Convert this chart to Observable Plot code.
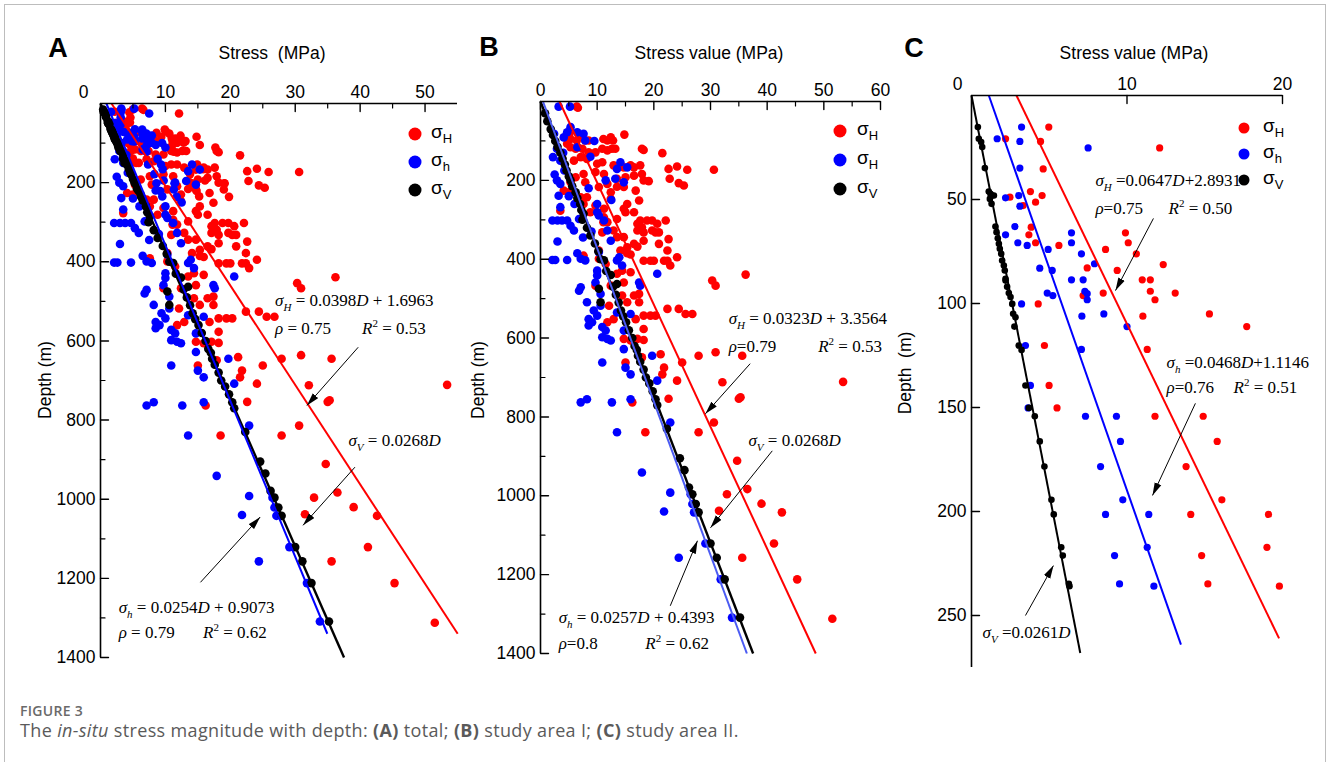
<!DOCTYPE html>
<html><head><meta charset="utf-8">
<script src="https://cdn.jsdelivr.net/npm/d3@7"></script>
<script src="https://cdn.jsdelivr.net/npm/@observablehq/plot@0.6"></script>
<style>
html,body{margin:0;padding:0;background:#fff;width:1328px;height:762px;overflow:hidden;}
#wrap{position:relative;width:1328px;height:762px;font-family:"Liberation Sans",Arial,sans-serif;color:#000;}
#border{position:absolute;left:4px;top:4px;width:1322px;height:840px;border:1px solid #bdbdbd;box-sizing:border-box;}
.abs{position:absolute;white-space:pre;}
.pnl{position:absolute;top:0;}
.letter{font-weight:bold;font-size:27px;transform:translate(-50%,-50%);}
.title{font-size:17.5px;transform:translate(-50%,-50%);}
.ylab{font-size:17.5px;transform:translate(-50%,-50%) rotate(-90deg);}
.legdot{position:absolute;border-radius:50%;transform:translate(-50%,-50%);}
.legtxt{position:absolute;font-size:19px;transform:translateY(-50%);line-height:1;}
.legtxt sub{font-size:13px;vertical-align:-5px;}
.cap1{font-family:"Open Sans",sans-serif;font-size:14px;line-height:1;color:#6a6a6a;font-weight:600;transform:translateY(-50%);letter-spacing:0.3px;}
.cap2{font-family:"Open Sans",sans-serif;font-size:18px;line-height:1;color:#5a5a5a;transform:translateY(-50%);letter-spacing:0.35px;}
</style>
</head><body>
<div id="wrap"><div id="border"></div></div>
<script>
// ---------- data: study area I (σH, σh, σV) as [stress MPa, depth m] ----------
const areaI_sigmaH = [
[6.4,13],[6.6,16],
[5.1,82],[5.3,95],[6.4,99],[7.1,86],[7.9,99],[8.5,99],[4.7,107],[11.1,95],[11.8,99],[12.4,91],[12.8,99],[13.2,120],[14.8,84],
[5.3,116],[6.2,120],[7.4,120],[8.5,129],[9.7,129],[10.9,120],[11.8,124],[12.6,120],[17.9,120],[18.2,123],[21.5,131],
[5.9,150],[7.1,141],[8.2,146],[10.0,158],[10.9,154],[12.9,162],[14.7,167],[15.9,162],[16.5,167],[17.6,162],[22.6,171],[24.1,165],[25.9,173],[30.6,173],
[6.2,192],[7.6,184],[9.7,179],[11.2,184],[13.5,196],[15.0,192],[16.5,188],[17.9,184],[18.2,200],[19.1,202],[22.8,196],[24.4,207],[25.3,213],[11.8,209],[7.9,205],[10.3,217],[5.3,205],[4.1,226],[5.0,230],
[8.2,243],[12.4,230],[13.5,216],[14.7,217],[16.8,226],[15.3,260],[17.4,251],[7.1,243],[7.6,260],[9.7,264],[11.2,272],[3.5,277],[12.4,247],[16.5,281],
[8.8,281],[11.2,294],[11.8,306],[13.5,298],[14.7,272],[15.0,281],[12.9,327],[11.1,306],[17.6,302],[17.1,310],[17.9,319],[18.8,302],[19.7,302],[20.6,310],[22.1,302],[19.7,327],[20.3,332],[20.9,332],[17.1,327],[18.2,332],
[13.5,344],[14.7,344],[10.9,332],[16.5,361],[17.1,368],[15.3,370],[18.2,353],[20.9,361],[22.6,349],[22.4,378],
[10.3,378],[14.1,378],[15.3,385],[15.9,388],[18.2,404],[19.4,404],[20.0,404],[21.8,404],[22.4,404],[24.1,395],[22.9,416],
[7.6,391],[10.3,399],[11.5,412],[13.5,437],[14.4,429],[15.9,433],[14.7,459],[12.4,467],[9.7,467],[16.5,492],[17.4,488],[14.4,492],[15.3,509],[17.4,509],[12.1,518],
[18.2,543],[19.4,543],[20.3,543],[22.4,526],[24.4,526],[25.6,539],[26.8,539],[16.8,552],[11.8,560],[12.9,552],[18.2,577],[14.7,602],[15.9,606],[17.1,602],[18.2,605],
[21.2,641],[17.9,649],[15.0,662],[21.8,675],[21.5,692],[25.0,662],[27.9,645],[30.9,636],[35.6,645],[24.1,708],[22.6,754],[16.2,763],[32.1,712],[35.0,754],[35.3,750],
[30.6,814],[27.9,839],[18.5,839],[34.7,911],[32.9,996],[36.5,983],[30.3,454],[30.9,467],[36.2,439],
[31.5,1038],[39.0,1020],[42.6,1042],[41.2,1121],[35.6,1157],[45.3,1212],[51.5,1312],[53.4,711]
];
const areaI_sigmah = [
[3.2,13],[5.2,13],[2.4,82],[4.1,91],[4.7,78],[7.6,82],[7.9,99],[6.5,116],[2.9,120],[2.2,141],[6.5,78],[5.3,65],
[3.5,150],[4.2,175],[5.0,240],[6.0,260],[8.8,140],[9.5,100],[4.0,130],[2.5,185],[8.5,220],[9.0,330],[7.5,345],[3.0,355],[12.5,250],
[2.9,200],[3.5,209],[3.2,239],[3.5,268],[2.1,302],[3.0,302],[3.8,302],[4.7,302],[5.3,315],[5.9,327],[10.0,281],[10.3,289],[6.8,298],[10.0,260],[11.2,302],[11.8,327],[12.4,353],[13.5,171],[13.2,196],[14.7,205],[15.3,167],[14.1,154],[11.5,200],
[2.1,402],[2.6,402],[4.7,402],[6.5,385],[7.1,399],[7.9,403],[10.3,382],[13.5,403],[13.9,395],[20.6,437],[10.0,429],
[14.4,416],[10.0,441],[9.7,459],[7.1,471],[6.8,480],[8.2,509],[10.6,488],[10.6,518],[10.0,543],[9.4,530],[8.5,552],[9.1,560],[8.5,568],[10.9,572],[11.5,581],[10.9,598],[11.8,602],[12.4,606],[14.7,581],[15.9,539],[17.4,459],[17.6,467],[13.5,535],
[14.7,628],[19.7,645],[10.9,662],[15.0,675],[15.9,692],[20.6,708],[7.1,763],[8.2,755],[12.6,763],[15.9,755],[22.9,814],[13.5,839],[17.9,941],[22.9,992],
[21.8,1040],[24.4,1157],[26.8,1021],[27.1,1042],[29.1,1121],[31.8,1212],[33.8,1309],[26.5,996]
];
const areaI_sigmaV = [
[0.8,30],[1.2,50],[1.8,70],[2.2,85],[2.6,100],[3.0,115],[3.5,130],[3.9,145],[4.3,160],[4.6,175],[5.0,190],[5.3,200],[5.6,215],[6.2,230],[6.5,245],[7.0,260],[7.2,275],[7.6,285],[7.4,300],
[8.2,320],[8.8,340],[9.6,360],[10.2,380],[10.6,400],[11.2,403],[11.6,430],[12.4,440],[13.5,463],[10.3,475],[10.6,509],[12.8,470],[13.3,490],[13.8,510],[14.2,530],[14.6,545],[15.1,560],[15.6,580],
[16.2,600],[16.6,620],[17.0,630],[17.2,645],[17.6,660],[18.2,680],[18.6,700],[19.2,715],[19.8,735],[20.3,755],[20.6,770],[22.3,830],[24.6,905],[25.4,935],
[26.2,979],[26.8,996],[27.4,1021],[27.9,1042],[30.0,1121],[31.1,1157],[32.5,1212],[35.2,1309]
];
// ---------- data: study area II ----------
const areaII_sigmaH = [
[4.97,15.2],[2.19,20.8],[4.44,22.1],[12.1,25.2],[4.61,35.3],[3.79,46.2],[4.54,48.1],[2.47,48.9],[4.12,51.3],[3.32,52.9],[3.84,63.3],[3.69,67.0],[4.12,70.8],[5.62,72.1],[8.62,74.0],[9.90,66.0],[10.08,70.8],[10.6,76.1],[12.33,81.3],[9.37,84.1],[7.44,82.9],[10.98,88.6],[11.5,88.6],
[11.5,94.1],[11.8,98.2],[13.1,95.0],[8.47,95.0],[7.18,96.2],[4.29,100.2],[11.02,106.1],[15.3,105],[17.7,111.1],[11.3,122.1],[4.69,120.2],[4.99,139.4],[5.5,150.2],[11.8,154.2],[14.9,154.2],[15.8,166.3],[13.8,178.4],[16.1,194.4],[14.1,201.4],[19.1,201.4],[19.0,217.2],[14.8,221.2],[15.2,234.8],[19.8,235.9]
];
const areaII_sigmah = [
[3.22,15.2],[1.65,20.8],[3.11,22.1],[7.50,25.2],[3.11,34.9],[2.19,49.2],[3.04,48.1],[3.11,53.2],[2.79,63.0],[2.19,67.0],[2.98,70.8],[3.58,72.1],[4.93,74.0],[6.43,66.0],[6.43,70.8],[7.07,76.1],[7.91,80.9],[4.39,83.0],[5.19,84.1],[6.43,88.6],[7.18,88.6],
[7.29,94.1],[7.44,95.3],[7.44,98.2],[4.87,95.0],[5.23,96.2],[3.22,100.2],[7.10,106.1],[8.51,105.0],[10.0,111.1],[7.07,122.1],[3.47,120.2],[3.79,139.4],[3.64,150.2],[7.33,154.2],[9.32,154.2],[9.58,166.3],[8.30,178.4],[9.73,194.4],[8.62,201.4],[11.4,201.4],[11.3,217.2],[9.2,221.2],[9.52,234.8],[11.73,235.9]
];
const areaII_sigmaV = [
[0.41,15.2],[0.47,20.8],[0.62,22.4],[0.69,24.8],[0.86,34.9],[1.11,46.2],[1.22,47.3],[1.33,48.1],[1.18,49.7],[1.44,48.1],[1.29,52.1],[1.54,63.0],[1.61,65.7],[1.69,68.6],[1.76,71.3],[1.82,73.7],[1.91,76.1],[1.97,79.3],[2.08,81.7],[2.14,84.1],[2.19,88.1],[2.19,89.0],[2.29,92.0],[2.40,95.0],[2.51,96.9],[2.62,100.2],[2.68,104.9],[2.83,106.6],[2.76,111.1],[3.04,120.2],[3.22,122.3],[3.47,139.4],[3.69,150.2],[4.07,154.2],[4.39,166.3],[4.69,178.4],[5.14,194.4],[5.29,201.4],[5.77,217.2],[5.87,221.2],[6.26,234.8],[6.3,235.9]
];
// total = area I + area II
const total_sigmaH = areaI_sigmaH.concat(areaII_sigmaH);
const total_sigmah = areaI_sigmah.concat(areaII_sigmah);
const total_sigmaV = areaI_sigmaV.concat(areaII_sigmaV);

// regression fits: [slope, intercept, max depth]
const fitTotal = {H:[0.0398,1.6963,1340], h:[0.0254,0.9073,1340], V:[0.0268,0,1400]};
const fitAreaI = {H:[0.0323,3.3564,1400], h:[0.0257,0.4393,1400], V:[0.0268,0,1400]};
const fitAreaII = {H:[0.0647,2.8931,261], h:[0.0468,1.1146,264], V:[0.0261,0,268]};

// tick values
const ticksDeep = [200,400,600,800,1000,1200,1400];
const ticksDeepMinor = [100,300,500,700,900,1100,1300];
const ticksShallow = [50,100,150,200,250];
const ticksStressA = [10,20,30,40,50], ticksStressAMinor = [5,15,25,35,45];
const ticksStressB = [0,10,20,30,40,50,60], ticksStressBMinor = [5,15,25,35,45,55];
const ticksStressC = [10,20];

// annotations (text, stress, depth)
const notesA = [
 ["σ_H = 0.0398D + 1.6963",26.9,497],["ρ = 0.75",26.9,568],["R^2 = 0.53",40.3,568],
 ["σ_V = 0.0268D",38.2,851],
 ["σ_h = 0.0254D + 0.9073",2.8,1273],["ρ = 0.79",2.8,1338],["R^2 = 0.62",15.8,1338]];
const arrowsA = [[39.7,616,31.8,763],[39.2,919,31.2,1066],[15.4,1210,24.6,1045]];
const notesB = [
 ["σ_H = 0.0323D + 3.3564",33.2,551],["ρ=0.79",33.2,622],["R^2 = 0.53",49.0,622],
 ["σ_V = 0.0268D",36.7,860],
 ["σ_h = 0.0257D + 0.4393",3.2,1310],["ρ=0.8",3.2,1376],["R^2 = 0.62",18.5,1376]];
const arrowsB = [[37.0,665,29.1,792],[40.9,886,30.0,1081],[22.9,1279,27.7,1114]];
const notesC = [
 ["σ_H =0.0647D+2.8931",7.97,40.9],["ρ=0.75",7.97,54.3],["R^2 = 0.50",12.67,54.3],
 ["σ_h =0.0468D+1.1146",12.54,128.4],["ρ=0.76",12.54,140.4],["R^2 = 0.51",16.85,140.4],
 ["σ_V =0.0261D",0.71,258]];
const arrowsC = [[11.7,59.1,9.26,93.8],[14.4,148,11.64,192.3],[3.47,250,5.27,226]];

const RED="#ff0000", BLUE="#0000ff", BLACK="#000000";
const tickDown = {draw(c,l){c.moveTo(0,0);c.lineTo(0,l);}};
const tickRight = {draw(c,l){c.moveTo(0,0);c.lineTo(l,0);}};
const NS = "http://www.w3.org/2000/svg";
function triMarker(color){
  const m = document.createElementNS(NS,"marker");
  m.setAttribute("viewBox","-13 -4 13 8");
  m.setAttribute("markerWidth","13"); m.setAttribute("markerHeight","8");
  m.setAttribute("markerUnits","userSpaceOnUse");
  m.setAttribute("refX","0"); m.setAttribute("refY","0");
  m.setAttribute("orient","auto");
  const p = document.createElementNS(NS,"path");
  p.setAttribute("d","M-13,-3.6L0,0L-13,3.6Z");
  p.setAttribute("fill",color); p.setAttribute("stroke","none");
  m.appendChild(p);
  return m;
}

function fitSeg(f){ return [{x1:f[1], y1:0, x2:f[0]*f[2]+f[1], y2:f[2]}]; }
const fmt = d => String(d);

function panel(o){
  const marks = [
    Plot.dot(o.H,{x:d=>d[0],y:d=>d[1],r:o.r,fill:RED}),
    Plot.dot(o.h,{x:d=>d[0],y:d=>d[1],r:o.r,fill:BLUE}),
    Plot.dot(o.V,{x:d=>d[0],y:d=>d[1],r:o.rV,fill:BLACK}),
    Plot.link(fitSeg(o.fit.H),{x1:"x1",y1:"y1",x2:"x2",y2:"y2",stroke:RED,strokeWidth:2}),
    Plot.link(fitSeg(o.fit.V),{x1:"x1",y1:"y1",x2:"x2",y2:"y2",stroke:BLACK,strokeWidth:o.vw}),
    Plot.link(fitSeg(o.fit.h),{x1:"x1",y1:"y1",x2:"x2",y2:"y2",stroke:o.hColor,strokeWidth:2}),
    Plot.ruleX([0],{stroke:BLACK,strokeWidth:1.6}),
    Plot.ruleY([0],{stroke:BLACK,strokeWidth:1.6}),
    Plot.vector(o.xt,{x:d=>d,y:()=>0,length:8,anchor:"start",shape:tickDown,stroke:BLACK,strokeWidth:1.4}),
    Plot.vector(o.xtm||[],{x:d=>d,y:()=>0,length:4.5,anchor:"start",shape:tickDown,stroke:BLACK,strokeWidth:1.2}),
    Plot.vector(o.yt,{x:()=>0,y:d=>d,length:8,anchor:"start",shape:tickRight,stroke:BLACK,strokeWidth:1.4}),
    Plot.vector(o.ytm||[],{x:()=>0,y:d=>d,length:4.5,anchor:"start",shape:tickRight,stroke:BLACK,strokeWidth:1.2}),
    Plot.axisX(o.xt,{anchor:"top",tickSize:0,tickPadding:6,label:null,fontSize:17.5,tickFormat:fmt}),
    Plot.axisY(o.yt,{anchor:"left",tickSize:0,tickPadding:5,label:null,fontSize:17.5,tickFormat:fmt}),
    Plot.link(o.arrows,{x1:d=>d[0],y1:d=>d[1],x2:d=>d[2],y2:d=>d[3],stroke:BLACK,strokeWidth:1,markerEnd:triMarker}),
    Plot.text(o.notes,{x:d=>d[1],y:d=>d[2],text:d=>d[0],textAnchor:"start",fontFamily:"Liberation Serif",fontSize:17,fill:BLACK})
  ];
  if (o.x0) marks.push(Plot.axisX([0],{anchor:"top",tickSize:0,tickPadding:6,label:null,fontSize:17.5,dx:o.x0,tickFormat:fmt}));
  const svg = Plot.plot({
    width:o.width, height:o.height,
    marginTop:o.mt, marginBottom:o.mb, marginLeft:o.ml, marginRight:o.mr,
    x:{domain:o.xd}, y:{domain:o.yd, reverse:true},
    style:{fontFamily:"Liberation Sans, Arial, sans-serif", background:"transparent", overflow:"visible", color:"#000"},
    marks
  });
  svg.querySelectorAll("text").forEach(el=>{
    const s = el.textContent;
    if (!/[σρ]|R\^2/.test(s)) return;
    const re = /σ_(\w)|R\^2|ρ|D|[^σρRD]+|R/g;
    let html = "", pend = 0, m;
    const dy = () => { const v = pend; pend = 0; return v ? ` dy="${v}"` : ""; };
    while ((m = re.exec(s))) {
      if (m[1]) { html += `<tspan font-style="italic"${dy()}>σ</tspan><tspan font-style="italic" font-size="11" dy="5">${m[1]}</tspan>`; pend = -5; }
      else if (m[0] === "R^2") { html += `<tspan font-style="italic"${dy()}>R</tspan><tspan font-size="11" dy="-7">2</tspan>`; pend = 7; }
      else if (m[0] === "ρ" || m[0] === "D") { html += `<tspan font-style="italic"${dy()}>${m[0]}</tspan>`; }
      else { html += `<tspan${dy()} xml:space="preserve">${m[0].replace(/&/g,"&amp;")}</tspan>`; }
    }
    el.innerHTML = html;
  });
  const div = document.createElement("div");
  div.className = "pnl";
  div.style.left = o.left + "px";
  div.style.width = o.width + "px";
  div.appendChild(svg);
  return div;
}

const wrap = document.getElementById("wrap");
wrap.appendChild(panel({left:0,width:470,height:680,mt:103,mb:23,ml:100,mr:13,xd:[0,55],yd:[0,1400],
  H:total_sigmaH,h:total_sigmah,V:total_sigmaV,fit:fitTotal,r:4.3,rV:4.3,vw:2.4,hColor:BLUE,
  xt:ticksStressA,xtm:ticksStressAMinor,yt:ticksDeep,ytm:ticksDeepMinor,x0:-17,notes:notesA,arrows:arrowsA}));
wrap.appendChild(panel({left:470,width:420,height:680,mt:101,mb:27,ml:70,mr:10,xd:[0,60],yd:[0,1400],
  H:areaI_sigmaH,h:areaI_sigmah,V:areaI_sigmaV,fit:fitAreaI,r:4.3,rV:4.3,vw:2.4,hColor:"#4b5bf2",
  xt:ticksStressB,xtm:ticksStressBMinor,yt:ticksDeep,ytm:ticksDeepMinor,notes:notesB,arrows:arrowsB}));
wrap.appendChild(panel({left:900,width:428,height:690,mt:95,mb:23,ml:71,mr:46,xd:[0,20],yd:[0,275],
  H:areaII_sigmaH,h:areaII_sigmah,V:areaII_sigmaV,fit:fitAreaII,r:3.6,rV:3.3,vw:2,hColor:BLUE,
  xt:ticksStressC,yt:ticksShallow,x0:-14,notes:notesC,arrows:arrowsC}));

// HTML labels
function addText(cls, txt, x, y){
  const d = document.createElement("div");
  d.className = "abs " + cls;
  d.style.left = x + "px"; d.style.top = y + "px";
  d.innerHTML = txt; wrap.appendChild(d); return d;
}
addText("letter","A",58,48); addText("letter","B",489,47); addText("letter","C",914,48);
addText("title","Stress  (MPa)",272,53); addText("title","Stress value (MPa)",709,53); addText("title","Stress value (MPa)",1134,53);
addText("ylab","Depth (m)",45,380); addText("ylab","Depth (m)",478,380); addText("ylab","Depth  (m)",905,373);

const legendA = [["H",RED],["h",BLUE],["V",BLACK]];
const legendB = [["H",RED],["H",BLUE],["V",BLACK]];
function legend(items, x, y0, step, size, tx){
  items.forEach(([sub,col],i)=>{
    const y = y0 + i*step;
    const dot = document.createElement("div");
    dot.className = "legdot";
    Object.assign(dot.style,{left:x+"px",top:y+"px",width:size+"px",height:size+"px",background:col});
    wrap.appendChild(dot);
    addText("legtxt",`σ<sub>${sub}</sub>`,tx,y-1);
  });
}
legend(legendA,415,134,28,13,431);
legend(legendB,840,131,29,13,857);
legend(legendA,1244,128,26,11,1263);

addText("cap1","FIGURE 3",20,711);
addText("cap2",'The <i>in-situ</i> stress magnitude with depth: <b>(A)</b> total; <b>(B)</b> study area I; <b>(C)</b> study area II.',20,730);
</script>
</body></html>
